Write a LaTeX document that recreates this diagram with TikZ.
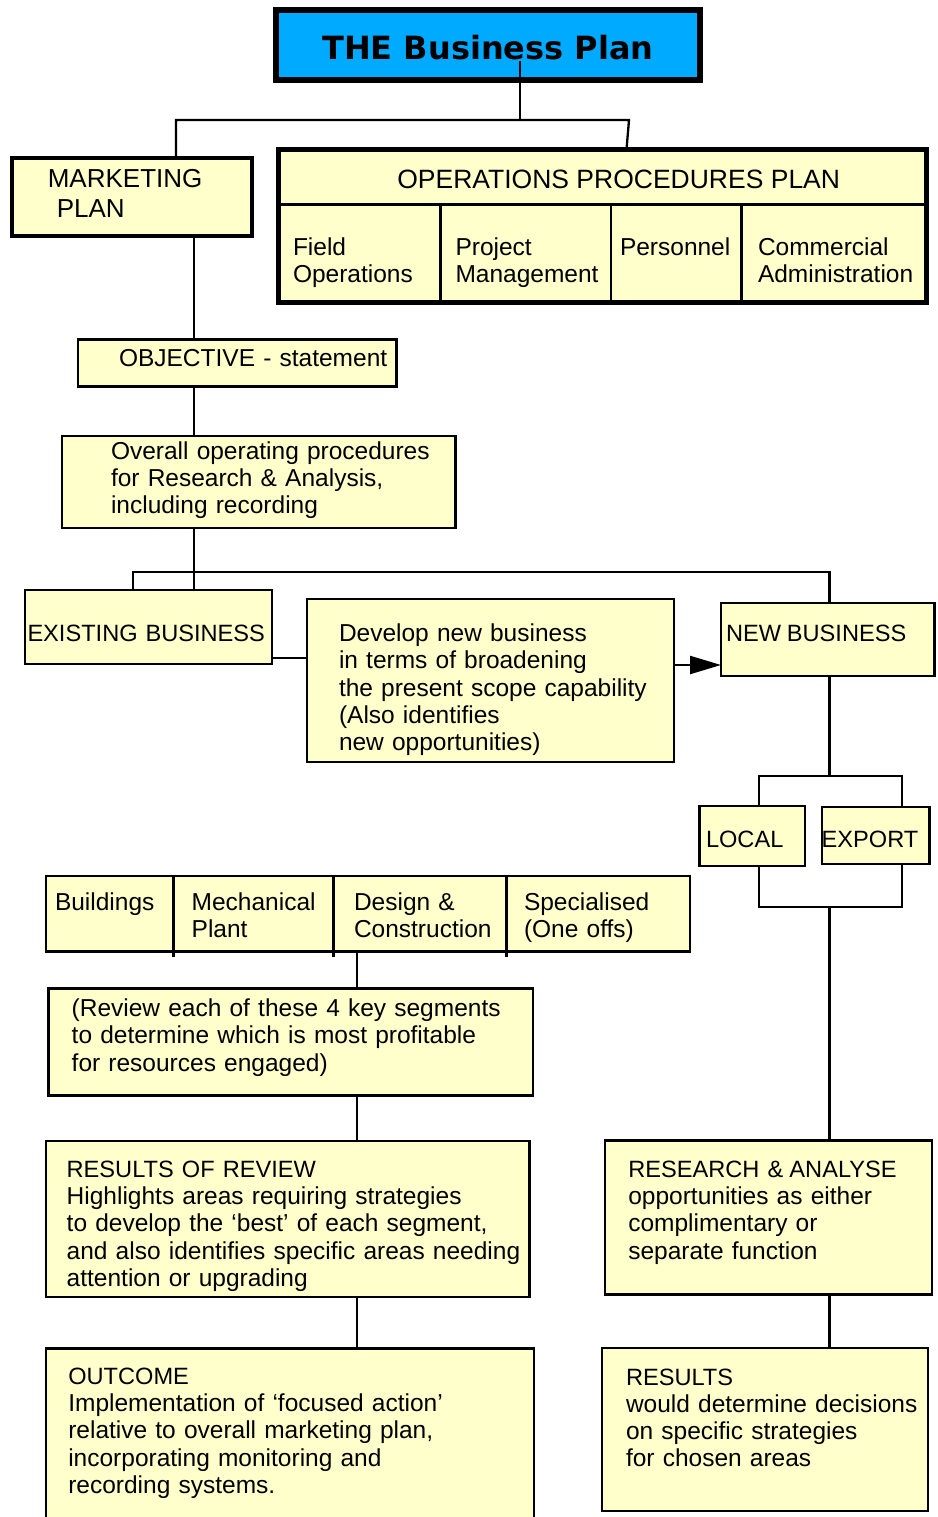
\documentclass[tikz,border=0pt]{standalone}
\usepackage{fontspec}
\setmainfont{Liberation Sans}
\newfontfamily\titlefont{DejaVu Sans}
\usetikzlibrary{arrows.meta,calc}
\definecolor{byellow}{RGB}{255,255,204}
\definecolor{tblue}{RGB}{0,170,255}
\newcommand{\bodyfont}{\fontsize{24.5}{27.2}\selectfont}
\newcommand{\capsfont}{\fontsize{23.6}{27.2}\selectfont}
\begin{document}
\begin{tikzpicture}[x=1pt,y=-1pt,
  box/.style={draw=black, fill=byellow, line width=2.5pt, inner sep=0pt, outer sep=0pt, anchor=north west, rectangle},
  txt/.style={inner sep=0pt, outer sep=0pt, anchor=base west, align=left, text width=500pt, font=\bodyfont},
  ctxt/.style={inner sep=0pt, outer sep=0pt, anchor=base},
  conn/.style={line width=2.3pt, draw=black},
  divider/.style={line width=2.5pt, draw=black}]
\useasboundingbox (0,0) rectangle (937,1517);
\fill[white] (0,0) rectangle (937,1517);

% ---- columns and rows used by connectors
\coordinate (colA) at (194,0);
\coordinate (colB) at (357.3,0);
\coordinate (colC) at (829.5,0);
\coordinate (colE) at (133,0);
\coordinate (colL) at (759,0);
\coordinate (colX) at (901.7,0);
\coordinate (rowD) at (0,658);
\coordinate (rowE) at (0,665);

% ---- title
\node[box, line width=6pt, fill=tblue, minimum width=424pt, minimum height=70pt] (title) at (276,10) {};
\node[ctxt, font=\titlefont\bfseries\fontsize{32}{36}\selectfont] (titleT) at (488,60) {THE Business Plan};

% ---- marketing plan
\node[box, line width=4.5pt, minimum width=240pt, minimum height=78pt] (mkt) at (12,158) {};
\node[txt, font=\fontsize{26}{29}\selectfont] (mktT) at (47.8,188) {MARKETING\\\hspace*{9pt}PLAN};

% ---- operations procedures plan
\node[box, line width=5pt, minimum width=648pt, minimum height=153pt] (ops) at (278.5,149.5) {};
\draw[line width=3pt] (278.5,205) -- (926.5,205);
\draw[divider] (440.5,205) -- (440.5,302.5);
\draw[divider] (611,205) -- (611,302.5);
\draw[divider] (741.5,205) -- (741.5,302.5);
\node[ctxt, font=\fontsize{26.5}{30}\selectfont] (opsT) at (618.7,189) {OPERATIONS PROCEDURES PLAN};
\node[txt] (opsA) at (293,255) {Field\\Operations};
\node[txt] (opsB) at (455.5,255) {Project\\Management};
\node[txt] (opsC) at (620,255) {Personnel};
\node[txt] (opsD) at (758,255) {Commercial\\Administration};

% ---- objective
\node[box, minimum width=318.5pt, minimum height=47pt] (obj) at (78,339.5) {};
\node[txt] (objT) at (119,366.7) {OBJECTIVE - statement};

% ---- overall
\node[box, minimum width=393.5pt, minimum height=92pt] (ovr) at (62,436) {};
\node[txt] (ovrT) at (111,459.3) {Overall operating procedures\\for Research \& Analysis,\\including recording};

% ---- existing / develop / new
\node[box, minimum width=247pt, minimum height=74pt] (exist) at (25,590) {};
\node[txt, font=\capsfont] (existT) at (27.5,641.7) {EXISTING BUSINESS};
\node[box, minimum width=367pt, minimum height=163pt] (dev) at (307,599) {};
\node[txt] (devT) at (339,641.7) {Develop new business\\in terms of broadening\\the present scope capability\\(Also identifies\\new opportunities)};
\node[box, minimum width=213.5pt, minimum height=73pt] (newb) at (721,603) {};
\node[txt, font=\capsfont] (newbT) at (726,641.7) {NEW\hspace{-2pt} BUSINESS};

% ---- local / export
\node[box, minimum width=105.5pt, minimum height=60pt] (loc) at (699.5,806) {};
\node[txt, font=\capsfont] (locT) at (706,847.3) {LOCAL};
\node[box, minimum width=107.5pt, minimum height=57pt] (exp) at (822,807) {};
\node[txt, font=\capsfont] (expT) at (821.7,847) {EXPORT};

% ---- segments
\node[box, minimum width=644pt, minimum height=75.5pt] (seg) at (46,876) {};
\draw[divider] (173.3,876) -- (173.3,957);
\draw[divider] (333.3,876) -- (333.3,957);
\draw[divider] (506.7,876) -- (506.7,957);
\node[txt] (segA) at (55,910.7) {Buildings};
\node[txt] (segB) at (191.7,910.7) {Mechanical\\Plant};
\node[txt] (segC) at (354,910.7) {Design \&\\Construction};
\node[txt] (segD) at (524,910.7) {Specialised\\(One offs)};

% ---- review
\node[box, minimum width=484.5pt, minimum height=107pt] (rev) at (48.5,988.5) {};
\node[txt] (revT) at (71.7,1016.7) {(Review each of these 4 key segments\\to determine which is most profitable\\for resources engaged)};

% ---- results of review
\node[box, minimum width=483.5pt, minimum height=156pt] (ror) at (46,1141) {};
\node[txt] (rorT) at (66.7,1177.5) {{\capsfont RESULTS OF REVIEW}\\Highlights areas requiring strategies\\to develop the ‘best’ of each segment,\\and also identifies specific areas needing\\attention or upgrading};

% ---- research & analyse
\node[box, minimum width=327pt, minimum height=154pt] (res) at (605,1140.5) {};
\node[txt] (resT) at (628.3,1177.5) {{\capsfont RESEARCH \&\hspace{-2pt} ANALYSE}\\opportunities as either\\complimentary or\\separate function};

% ---- outcome
\node[box, minimum width=488pt, minimum height=172pt] (out) at (46,1348.5) {};
\node[txt] (outT) at (68.3,1384.5) {{\capsfont OUTCOME}\\Implementation of ‘focused action’\\relative to overall marketing plan,\\incorporating monitoring and\\recording systems.};

% ---- results
\node[box, minimum width=326pt, minimum height=163pt] (rslt) at (602,1348) {};
\node[txt] (rsltT) at (626,1385) {{\capsfont RESULTS}\\would determine decisions\\on specific strategies\\for chosen areas};

% ---- connectors
\coordinate (t0) at (520,61);
\coordinate (jT) at (520,120);
\coordinate (jL) at (176,120);
\coordinate (jR) at (629,120);
\draw[conn] (t0) -- (jT);
\draw[conn] (mkt.north -| jL) -- (jL) -- (jR) -- ($(ops.north west)+(348,0)$);
\draw[conn] (mkt.south -| colA) -- (obj.north -| colA);
\draw[conn] (obj.south -| colA) -- (ovr.north -| colA);
\draw[conn] (ovr.south -| colA) -- (exist.north -| colA);
\coordinate (h1) at (133,572);
\coordinate (h2) at (829.5,572);
\draw[conn] (exist.north -| colE) -- (h1) -- (h2) -- (newb.north -| colC);
\draw[conn] (exist.east |- rowD) -- (dev.west |- rowD);
\draw[conn, -{Triangle[length=31pt,width=18pt]}] (dev.east |- rowE) -- (newb.west |- rowE);
\coordinate (bt) at (829.5,776);
\coordinate (btl) at (759,776);
\coordinate (btr) at (901.7,776);
\draw[conn] (newb.south -| colC) -- (bt);
\draw[conn] (loc.north -| colL) -- (btl) -- (btr) -- (exp.north -| colX);
\coordinate (bb) at (829.5,906.7);
\coordinate (bbl) at (759,906.7);
\coordinate (bbr) at (901.7,906.7);
\draw[conn] (loc.south -| colL) -- (bbl) -- (bbr) -- (exp.south -| colX);
\draw[conn] (bb) -- (res.north -| colC);
\draw[conn] (res.south -| colC) -- (rslt.north -| colC);
\draw[conn] (seg.south -| colB) -- (rev.north -| colB);
\draw[conn] (rev.south -| colB) -- (ror.north -| colB);
\draw[conn] (ror.south -| colB) -- (out.north -| colB);
\end{tikzpicture}
\end{document}
